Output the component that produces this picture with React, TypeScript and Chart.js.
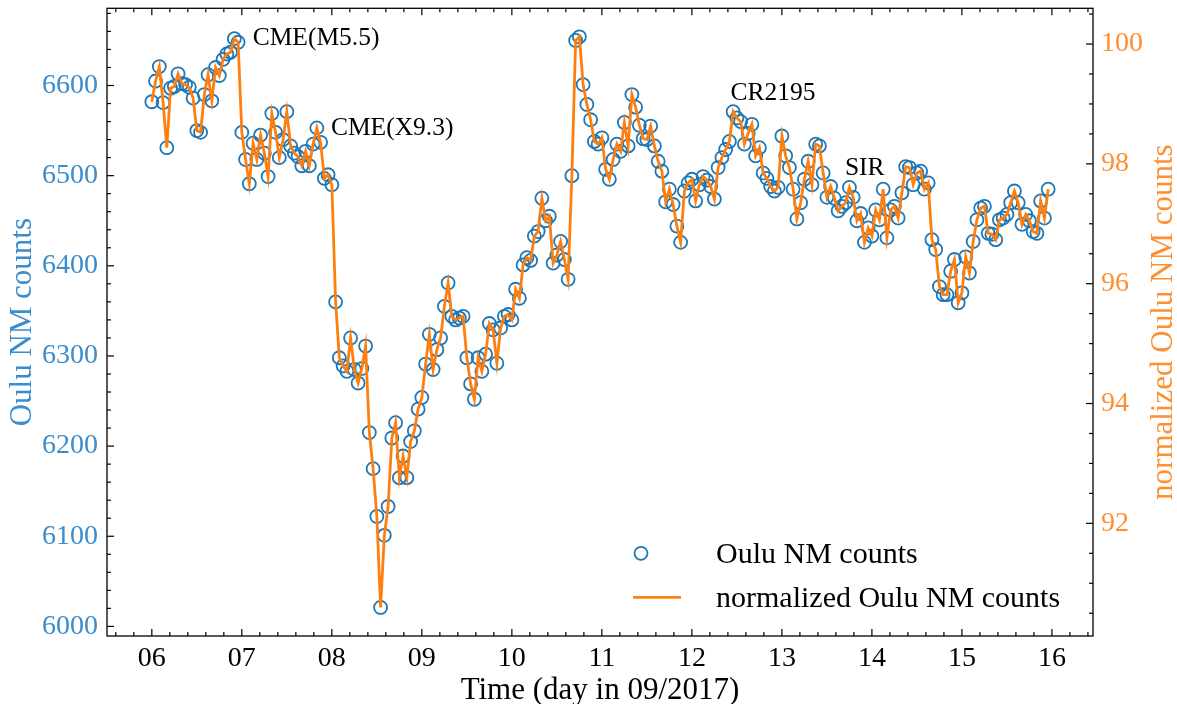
import React, { useEffect, useRef } from 'react';
import { Chart, registerables } from 'chart.js';

Chart.register(...registerables);

// ---------- data (hourly Oulu NM counts, 06–15 Sep 2017) ----------
const dayStarts = [6, 7, 8, 9, 10, 11, 12, 13, 14, 15];
const day06 = [6582, 6605, 6621, 6581, 6531, 6597, 6599, 6613, 6602, 6601, 6598, 6586, 6550, 6548, 6590, 6612, 6583, 6620, 6611, 6629, 6635, 6637, 6652, 6648];
const day07 = [6548, 6518, 6491, 6536, 6518, 6545, 6525, 6499, 6569, 6548, 6520, 6540, 6571, 6533, 6525, 6521, 6511, 6527, 6511, 6535, 6553, 6537, 6497, 6501];
const day08 = [6490, 6360, 6298, 6289, 6283, 6320, 6285, 6270, 6286, 6311, 6215, 6175, 6122, 6021, 6101, 6133, 6209, 6226, 6165, 6189, 6165, 6205, 6217, 6241];
const day09 = [6254, 6291, 6324, 6285, 6307, 6320, 6355, 6381, 6344, 6340, 6342, 6344, 6298, 6269, 6252, 6298, 6283, 6302, 6336, 6329, 6292, 6331, 6344, 6346];
const day10 = [6340, 6374, 6364, 6401, 6409, 6406, 6433, 6438, 6475, 6450, 6455, 6403, 6412, 6427, 6407, 6385, 6500, 6650, 6654, 6601, 6579, 6562, 6538, 6535];
const day11 = [6542, 6507, 6496, 6518, 6535, 6527, 6559, 6533, 6590, 6576, 6556, 6541, 6540, 6555, 6533, 6516, 6505, 6471, 6485, 6468, 6444, 6426, 6483, 6492];
const day12 = [6496, 6472, 6490, 6499, 6495, 6488, 6474, 6509, 6520, 6529, 6538, 6571, 6564, 6560, 6535, 6547, 6557, 6522, 6531, 6503, 6497, 6488, 6483, 6487];
const day13 = [6544, 6522, 6509, 6485, 6452, 6470, 6496, 6516, 6490, 6535, 6533, 6503, 6476, 6488, 6475, 6461, 6466, 6470, 6487, 6476, 6450, 6458, 6426, 6442];
const day14 = [6433, 6462, 6451, 6485, 6431, 6462, 6466, 6453, 6481, 6510, 6509, 6490, 6503, 6505, 6485, 6492, 6429, 6418, 6377, 6368, 6368, 6394, 6407, 6359];
const day15 = [6370, 6410, 6392, 6427, 6451, 6464, 6466, 6436, 6435, 6429, 6451, 6453, 6457, 6470, 6483, 6470, 6446, 6457, 6450, 6438, 6436, 6472, 6453, 6485];
const countsByDay = [day06, day07, day08, day09, day10, day11, day12, day13, day14, day15];

// reference count used for normalization (normalized = counts / ref * 100)
const NORM_REF = 6646;

// ticks
const xTicks = [6, 7, 8, 9, 10, 11, 12, 13, 14, 15, 16];
const xTickLabels = ['06', '07', '08', '09', '10', '11', '12', '13', '14', '15', '16'];
const yTicks = [6000, 6100, 6200, 6300, 6400, 6500, 6600];
const y1Ticks = [92, 94, 96, 98, 100];

// annotations
const annotTexts = ['CME(M5.5)', 'CME(X9.3)', 'CR2195', 'SIR'];
const annotX = [7.12, 7.99, 12.43, 13.7];
const annotY = [6652, 6553, 6591, 6508];

// ---------- derived tables ----------
const times: number[] = [];
const counts: number[] = [];
countsByDay.forEach((arr, d) => {
  arr.forEach((v, h) => {
    times.push(dayStarts[d] + h / 24);
    counts.push(v);
  });
});
const normalized = counts.map((c) => (c / NORM_REF) * 100);

const tMin = Math.min(...times);
const tMax = Math.max(...times);
const cMin = Math.min(...counts);
const cMax = Math.max(...counts);
const xMin = tMin - 0.05 * (tMax - tMin);
const xMax = tMax + 0.05 * (tMax - tMin);
const yMin = cMin - 0.05 * (cMax - cMin);
const yMax = cMax + 0.05 * (cMax - cMin);
const y1Min = (yMin / NORM_REF) * 100;
const y1Max = (yMax / NORM_REF) * 100;

const BLUE = '#1f77b4';
const ORANGE = '#ff7f0e';
const BLUE_TEXT = '#3a8dcd';
const ORANGE_TEXT = '#ff9030';
const SERIF = '"Liberation Serif", "Times New Roman", serif';

const decorPlugin = {
  id: 'decor',
  afterDraw(chart: any) {
    const { ctx, chartArea: a, scales } = chart;
    const sx = scales.x;
    const sy = scales.y;
    const sy1 = scales.y1;
    ctx.save();
    ctx.strokeStyle = '#000';
    ctx.lineWidth = 1.2;
    const seg = (x1: number, y1: number, x2: number, y2: number) => {
      ctx.beginPath();
      ctx.moveTo(x1, y1);
      ctx.lineTo(x2, y2);
      ctx.stroke();
    };
    const MAJ = 7;
    const MIN = 4;
    // x ticks bottom & top
    for (const v of xTicks) {
      const p = sx.getPixelForValue(v);
      seg(p, a.bottom, p, a.bottom - MAJ);
      seg(p, a.top, p, a.top + MAJ);
    }
    for (let k = Math.ceil(xMin * 5); k <= Math.floor(xMax * 5); k++) {
      if (k % 5 === 0) continue;
      const p = sx.getPixelForValue(k / 5);
      seg(p, a.bottom, p, a.bottom - MIN);
      seg(p, a.top, p, a.top + MIN);
    }
    // left y ticks
    for (const v of yTicks) {
      const p = sy.getPixelForValue(v);
      seg(a.left, p, a.left + MAJ, p);
    }
    for (let k = Math.ceil(yMin / 20); k <= Math.floor(yMax / 20); k++) {
      if (k % 5 === 0) continue;
      const p = sy.getPixelForValue(k * 20);
      seg(a.left, p, a.left + MIN, p);
    }
    // right y1 ticks
    for (const v of y1Ticks) {
      const p = sy1.getPixelForValue(v);
      seg(a.right, p, a.right - MAJ, p);
    }
    for (let k = Math.ceil(y1Min * 2); k <= Math.floor(y1Max * 2); k++) {
      if (k % 4 === 0) continue;
      const p = sy1.getPixelForValue(k / 2);
      seg(a.right, p, a.right - MIN, p);
    }
    // frame
    ctx.lineWidth = 1.3;
    ctx.strokeRect(a.left, a.top, a.right - a.left, a.bottom - a.top);

    // axis titles
    ctx.font = `31px ${SERIF}`;
    ctx.textBaseline = 'alphabetic';
    ctx.textAlign = 'center';
    ctx.fillStyle = '#000';
    ctx.fillText('Time (day in 09/2017)', (a.left + a.right) / 2, 699);

    const cy = (a.top + a.bottom) / 2;
    ctx.save();
    ctx.translate(31, cy);
    ctx.rotate(-Math.PI / 2);
    ctx.fillStyle = BLUE_TEXT;
    ctx.fillText('Oulu NM counts', 0, 0);
    ctx.restore();

    ctx.save();
    ctx.translate(1172, cy);
    ctx.rotate(-Math.PI / 2);
    ctx.fillStyle = ORANGE_TEXT;
    ctx.fillText('normalized Oulu NM counts', 0, 0);
    ctx.restore();

    // annotations
    ctx.font = `25.5px ${SERIF}`;
    ctx.textAlign = 'left';
    ctx.textBaseline = 'middle';
    ctx.fillStyle = '#000';
    annotTexts.forEach((t, i) => {
      ctx.fillText(t, sx.getPixelForValue(annotX[i]), sy.getPixelForValue(annotY[i]));
    });

    // legend
    const lx = a.left + 534; // marker column
    const ly1 = a.top + 545;
    const ly2 = a.top + 589;
    ctx.strokeStyle = BLUE;
    ctx.lineWidth = 1.8;
    ctx.beginPath();
    ctx.arc(lx, ly1, 6.5, 0, Math.PI * 2);
    ctx.stroke();
    ctx.strokeStyle = ORANGE;
    ctx.lineWidth = 2.8;
    seg(lx - 8, ly2, lx + 40, ly2);
    ctx.font = `30px ${SERIF}`;
    ctx.fillStyle = '#000';
    ctx.textBaseline = 'alphabetic';
    ctx.fillText('Oulu NM counts', a.left + 609, ly1 + 10);
    ctx.fillText('normalized Oulu NM counts', a.left + 609, ly2 + 10);
    ctx.restore();
  },
};

export default function App() {
  const canvasRef = useRef<HTMLCanvasElement | null>(null);

  useEffect(() => {
    if (!canvasRef.current) return;
    const chart = new Chart(canvasRef.current, {
      type: 'scatter',
      data: {
        datasets: [
          {
            label: 'normalized Oulu NM counts',
            data: times.map((t, i) => ({ x: t, y: normalized[i] })),
            yAxisID: 'y1',
            showLine: true,
            borderColor: ORANGE,
            backgroundColor: ORANGE,
            borderWidth: 2.8,
            pointRadius: 0,
            tension: 0,
            order: 0,
          } as any,
          {
            label: 'Oulu NM counts',
            data: times.map((t, i) => ({ x: t, y: counts[i] })),
            yAxisID: 'y',
            showLine: false,
            pointStyle: 'circle',
            pointRadius: 6.5,
            pointBorderWidth: 1.8,
            pointBorderColor: BLUE,
            pointBackgroundColor: 'rgba(0,0,0,0)',
            borderColor: BLUE,
            backgroundColor: 'rgba(0,0,0,0)',
            order: 1,
          } as any,
        ],
      },
      options: {
        responsive: false,
        animation: false,
        events: [],
        layout: { padding: { top: 8, left: 0, right: 0, bottom: 0 } },
        plugins: {
          legend: { display: false },
          tooltip: { enabled: false },
        },
        scales: {
          x: {
            type: 'linear',
            min: xMin,
            max: xMax,
            afterBuildTicks: (s: any) => {
              s.ticks = xTicks.map((v) => ({ value: v }));
            },
            afterFit: (s: any) => {
              s.height = 68;
              s.paddingLeft = 0;
              s.paddingRight = 0;
            },
            ticks: {
              callback: (_v: any, i: number) => xTickLabels[i],
              color: '#000',
              font: { family: SERIF, size: 28 },
              padding: 6,
              maxRotation: 0,
              autoSkip: false,
            },
            grid: { display: false, drawTicks: false },
            border: { display: false },
          },
          y: {
            type: 'linear',
            position: 'left',
            min: yMin,
            max: yMax,
            afterBuildTicks: (s: any) => {
              s.ticks = yTicks.map((v) => ({ value: v }));
            },
            afterFit: (s: any) => {
              s.width = 107;
              s.paddingTop = 0;
              s.paddingBottom = 0;
            },
            ticks: {
              callback: (v: any) => String(v),
              color: BLUE_TEXT,
              font: { family: SERIF, size: 28 },
              padding: 9,
              autoSkip: false,
            },
            grid: { display: false, drawTicks: false },
            border: { display: false },
          },
          y1: {
            type: 'linear',
            position: 'right',
            min: y1Min,
            max: y1Max,
            afterBuildTicks: (s: any) => {
              s.ticks = y1Ticks.map((v) => ({ value: v }));
            },
            afterFit: (s: any) => {
              s.width = 84;
              s.paddingTop = 0;
              s.paddingBottom = 0;
            },
            ticks: {
              callback: (v: any) => String(v),
              color: ORANGE_TEXT,
              font: { family: SERIF, size: 28 },
              padding: 8,
              autoSkip: false,
            },
            grid: { display: false, drawTicks: false },
            border: { display: false },
          },
        },
      } as any,
      plugins: [decorPlugin],
    });
    return () => chart.destroy();
  }, []);

  return (
    <div style={{ position: 'absolute', left: 0, top: 0, width: 1177, height: 704, background: '#fff' }}>
      <canvas ref={canvasRef} width={1177} height={704} style={{ display: 'block' }} />
    </div>
  );
}
